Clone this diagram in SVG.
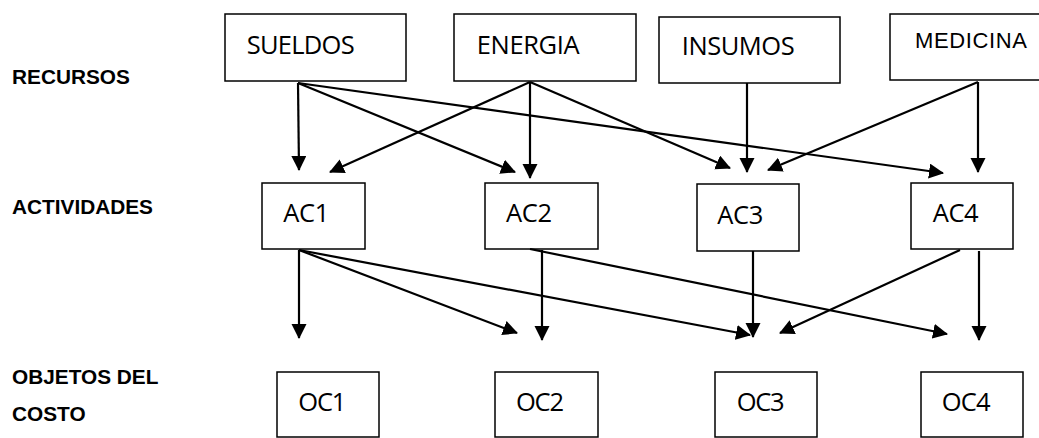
<svg xmlns="http://www.w3.org/2000/svg" width="1039" height="438" viewBox="0 0 1039 438">
<style>
.box{fill:#fff;stroke:#000;stroke-width:1.5}
.t{font-family:"Open Sans","Liberation Sans",sans-serif;font-size:25.5px;fill:#000}
.a{font-family:"Liberation Sans",Arial,sans-serif;font-size:22px;fill:#000}
.lbl{font-family:"Liberation Sans",Arial,sans-serif;font-size:20.8px;font-weight:bold;fill:#000}
.c line{stroke:#000;stroke-width:2.2;fill:none;marker-end:url(#ah)}
</style>
<defs>
<marker id="ah" markerUnits="userSpaceOnUse" markerWidth="16" markerHeight="16" refX="14" refY="7.5" orient="auto">
<path d="M0,0 L15,7.5 L0,15 Z" fill="#000"/>
</marker>
</defs>
<rect width="1039" height="438" fill="#fff"/>
<g id="labels">
<text class="lbl" x="12" y="84">RECURSOS</text>
<text class="lbl" x="12" y="214">ACTIVIDADES</text>
<text class="lbl" x="12" y="384.3">OBJETOS DEL</text>
<text class="lbl" x="12" y="420.7">COSTO</text>
</g>
<g id="sueldos"><rect class="box" x="225" y="14" width="181" height="67"/><text class="t" x="246.7" y="54" textLength="108">SUELDOS</text></g>
<g id="energia"><rect class="box" x="454" y="14" width="182" height="67"/><text class="t" x="476.7" y="54" textLength="103">ENERGIA</text></g>
<g id="insumos"><rect class="box" x="659" y="17" width="181" height="66"/><text class="t" x="681.7" y="55" textLength="113">INSUMOS</text></g>
<g id="medicina"><rect class="box" x="890" y="14" width="160" height="66"/><text class="a" x="915" y="47.7" textLength="112">MEDICINA</text></g>
<g id="ac1"><rect class="box" x="262" y="183" width="103" height="66"/><text class="t" x="283.3" y="222.3" textLength="46">AC1</text></g>
<g id="ac2"><rect class="box" x="485" y="183" width="113" height="66"/><text class="t" x="506" y="222" textLength="46">AC2</text></g>
<g id="ac3"><rect class="box" x="697" y="184" width="102" height="67"/><text class="t" x="717.3" y="224" textLength="46">AC3</text></g>
<g id="ac4"><rect class="box" x="911" y="183" width="102" height="66"/><text class="t" x="932.7" y="221.7" textLength="46">AC4</text></g>
<g id="oc1"><rect class="box" x="277" y="372" width="102" height="65"/><text class="t" x="298.3" y="410.7" textLength="48">OC1</text></g>
<g id="oc2"><rect class="box" x="495" y="372" width="103" height="65"/><text class="t" x="516" y="411" textLength="48">OC2</text></g>
<g id="oc3"><rect class="box" x="715" y="372" width="102" height="65"/><text class="t" x="736.7" y="410.7" textLength="48">OC3</text></g>
<g id="oc4"><rect class="box" x="921" y="372" width="102" height="65"/><text class="t" x="941.7" y="410.7" textLength="49">OC4</text></g>
<g id="connectors" class="c">
<line x1="298" y1="83" x2="299" y2="170"/>
<line x1="298" y1="83" x2="515" y2="172"/>
<line x1="298" y1="83" x2="943" y2="173"/>
<line x1="530" y1="82" x2="330" y2="172"/>
<line x1="530" y1="82" x2="530" y2="178"/>
<line x1="530" y1="82" x2="730" y2="168"/>
<line x1="747" y1="83" x2="747" y2="172"/>
<line x1="978" y1="82" x2="768" y2="170"/>
<line x1="978" y1="82" x2="978" y2="172"/>
<line x1="299" y1="250" x2="299" y2="338"/>
<line x1="299" y1="250" x2="517" y2="333"/>
<line x1="299" y1="250" x2="750" y2="335"/>
<line x1="542" y1="250" x2="542" y2="340"/>
<line x1="530" y1="249" x2="947" y2="334"/>
<line x1="753" y1="251" x2="753" y2="337"/>
<line x1="960" y1="250" x2="780" y2="333"/>
<line x1="979" y1="251" x2="979" y2="340"/>
</g>
</svg>
